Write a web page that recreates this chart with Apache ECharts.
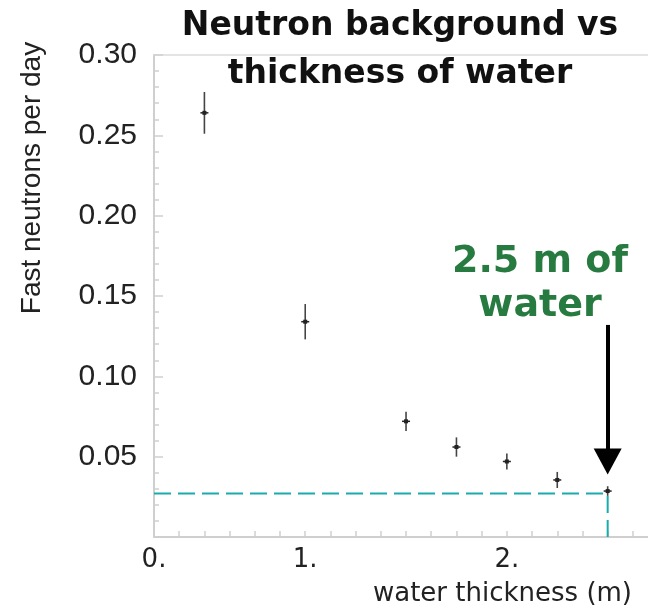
<!DOCTYPE html>
<html>
<head>
<meta charset="utf-8">
<script src="https://cdn.jsdelivr.net/npm/echarts@6/dist/echarts.min.js"></script>
<style>html,body{margin:0;padding:0;background:#fff}#c{width:648px;height:608px}</style>
</head>
<body>
<div id="c"></div>
<script>
// water thickness (m)
const thickness = [0.5, 1.0, 1.5, 1.75, 2.0, 2.25, 2.5];
// fast neutrons per day
const rate = [0.264, 0.134, 0.072, 0.056, 0.047, 0.0355, 0.0286];
const rateErr = [0.013, 0.011, 0.006, 0.006, 0.005, 0.005, 0.003];
// dashed guide at 2.5 m
const guideX = 2.5;
const guideY = 0.027;
// arrow (annotation) from / to
const arrowFromY = 0.132;
const arrowToY = 0.047;
// tick labels
const xTickValues = [0.25, 1, 2];
const xTickLabels = ['0.', '1.', '2.'];
const yTickValues = [0.05, 0.10, 0.15, 0.20, 0.25, 0.30];

const chart = echarts.init(document.getElementById('c'));
const errData = thickness.map((x, i) => [x, rate[i], rateErr[i]]);

chart.setOption({
  animation: false,
  backgroundColor: '#ffffff',
  title: {
    text: 'Neutron background vs\nthickness of water',
    left: 395, top: -3, textAlign: 'center',
    textStyle: { fontFamily: 'DejaVu Sans', fontWeight: 'bold', fontSize: 33, lineHeight: 48, color: '#111' }
  },
  grid: { left: 154, right: 0, top: 55, bottom: 71 },
  xAxis: [{
    type: 'value', min: 0.25, max: 2.7, interval: 0.125,
    axisLine: { lineStyle: { color: '#cfcfcf', width: 2 } },
    axisTick: { inside: true, length: 6, lineStyle: { color: '#cfcfcf', width: 1.5 } },
    splitLine: { show: false },
    axisLabel: {
      margin: 10, color: '#222', fontFamily: 'DejaVu Sans', fontSize: 26,
      showMaxLabel: false,
      formatter: v => {
        const k = xTickValues.findIndex(t => Math.abs(t - v) < 1e-6);
        return k >= 0 ? xTickLabels[k] : '';
      }
    },
    name: 'water thickness (m)', nameLocation: 'end', nameGap: 0,
    nameTextStyle: { fontFamily: 'DejaVu Sans', fontSize: 26, color: '#222', align: 'right', verticalAlign: 'top', padding: [44, 16, 0, 0] }
  }, {
    type: 'value', position: 'top', min: 0.25, max: 2.7,
    axisLine: { show: true, lineStyle: { color: '#dcdcdc', width: 1.5 } },
    axisTick: { show: false }, axisLabel: { show: false }, splitLine: { show: false }
  }],
  yAxis: {
    type: 'value', min: 0, max: 0.3, interval: 0.05,
    axisLine: { show: true, lineStyle: { color: '#cfcfcf', width: 2 } },
    axisTick: { show: true, inside: true, length: 9, lineStyle: { color: '#cfcfcf', width: 1.5 } },
    minorTick: { show: true, splitNumber: 5, length: 5, lineStyle: { color: '#cfcfcf', width: 1.5 } },
    splitLine: { show: false },
    axisLabel: {
      margin: 17, color: '#222', fontFamily: 'Liberation Sans', fontSize: 30,
      showMinLabel: false,
      formatter: v => yTickValues.some(t => Math.abs(t - v) < 1e-6) ? v.toFixed(2) : ''
    }
  },
  graphic: [
    {
      type: 'text', x: 32, y: 178, rotation: Math.PI / 2,
      style: { text: 'Fast neutrons per day', align: 'center', verticalAlign: 'middle', fill: '#222', font: '28px "Liberation Sans"' }
    },
    {
      type: 'text', x: 540, y: 284,
      style: { text: '2.5 m of\nwater', align: 'center', verticalAlign: 'middle', fill: '#277a40', font: 'bold 38px "DejaVu Sans"', lineHeight: 44 }
    }
  ],
  series: [
    {
      type: 'line', xAxisIndex: 0, silent: true, symbol: 'none',
      data: [[0.25, guideY], [guideX, guideY], [guideX, 0]],
      lineStyle: { color: '#1aacac', width: 2, type: [17, 7] },
      z: 2,
      markLine: {
        silent: true, symbol: ['none', 'triangle'], symbolSize: [28, 26],
        label: { show: false },
        lineStyle: { color: '#000', width: 4, type: 'solid' },
        data: [[{ coord: [guideX, arrowFromY] }, { coord: [guideX, arrowToY] }]]
      }
    },
    {
      type: 'custom', xAxisIndex: 0, silent: true, z: 5,
      data: errData,
      renderItem: (params, api) => {
        const x = api.value(0), y = api.value(1), e = api.value(2);
        const p = api.coord([x, y]);
        const t = api.coord([x, y + e]);
        const b = api.coord([x, y - e]);
        return {
          type: 'group',
          children: [
            { type: 'line', shape: { x1: p[0], y1: t[1], x2: p[0], y2: b[1] }, style: { stroke: '#444', lineWidth: 1.6 } },
            { type: 'line', shape: { x1: p[0] - 4, y1: p[1], x2: p[0] + 4, y2: p[1] }, style: { stroke: '#222', lineWidth: 1.5 } },
            { type: 'rect', shape: { x: p[0] - 2, y: p[1] - 2, width: 4, height: 4 }, style: { fill: '#222' } }
          ]
        };
      }
    }
  ]
});
</script>
</body>
</html>
